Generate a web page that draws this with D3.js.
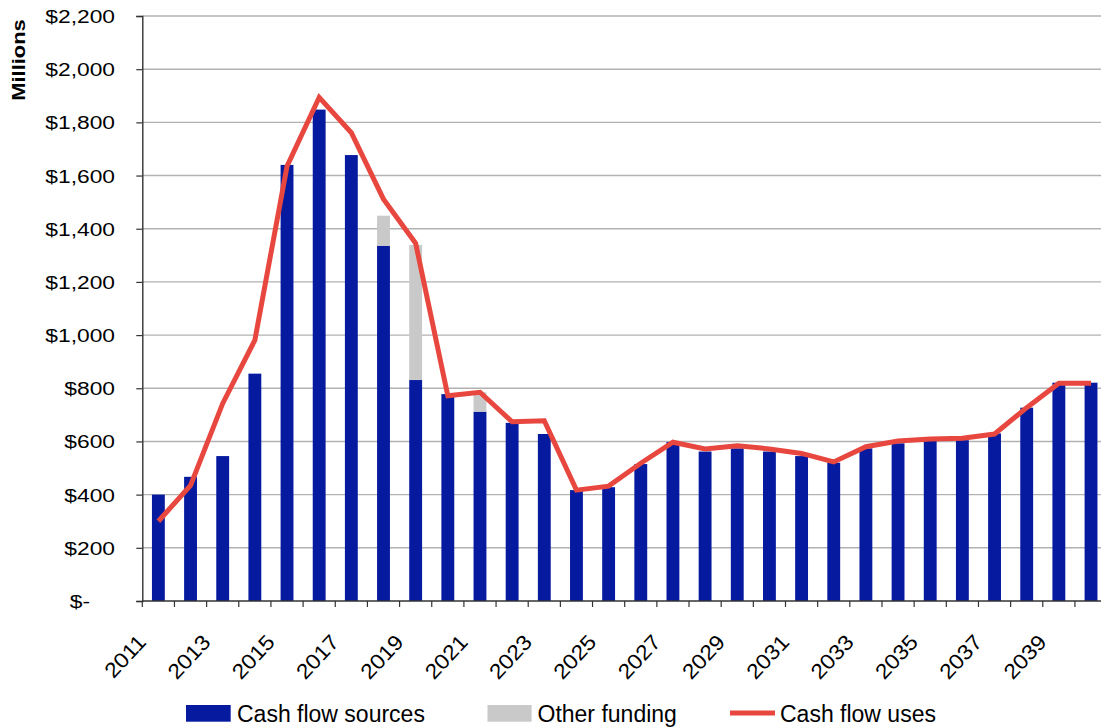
<!DOCTYPE html>
<html>
<head>
<meta charset="utf-8">
<script src="https://cdn.jsdelivr.net/npm/d3@7"></script>
<style>
  html, body { margin: 0; padding: 0; background: #fff; }
  svg { display: block; }
  text { font-family: "Liberation Sans", Arial, sans-serif; fill: #000; }
</style>
</head>
<body>
<svg id="chart" width="1101" height="728"></svg>
<script>
const years = ["2011","2012","2013","2014","2015","2016","2017","2018","2019","2020",
  "2021","2022","2023","2024","2025","2026","2027","2028","2029","2030",
  "2031","2032","2033","2034","2035","2036","2037","2038","2039","2040"];
const cashFlowSources = [400,467,545,855,1640,1848,1677,1336,831,778,
  712,670,628,417,428,515,598,562,574,562,
  545,520,574,593,603,605,630,727,821,821];
const otherFunding = [0,0,0,0,0,0,0,113,508,0,
  73,0,0,0,0,0,0,0,0,0,
  0,0,0,0,0,0,0,0,0,0];
const cashFlowUses = [300,435,743,981,1635,1894,1761,1511,1345,772,
  785,674,678,417,432,518,597,572,584,572,
  555,523,580,602,609,612,628,727,819,819];
const yTickValues = [0,200,400,600,800,1000,1200,1400,1600,1800,2000,2200];
const yTickLabels = ["$-","$200","$400","$600","$800","$1,000","$1,200","$1,400","$1,600","$1,800","$2,000","$2,200"];
const xTickLabels = ["2011","2013","2015","2017","2019","2021","2023","2025","2027","2029","2031","2033","2035","2037","2039"];
const legendItems = ["Cash flow sources","Other funding","Cash flow uses"];

const BLUE = "#061aa0", GRAY = "#c9c9c9", RED = "#e8473f";
const svg = d3.select("#chart");
const plotLeft = 142.3, bandW = 32.16, plotTop = 16, plotBottom = 601;

const x = d3.scaleBand().domain(years).range([plotLeft, plotLeft + bandW * years.length]).padding(0);
const y = d3.scaleLinear().domain([0, 2200]).range([plotBottom, plotTop]);

// gridlines
svg.append("g").selectAll("line").data(yTickValues.filter(v => v > 0)).join("line")
  .attr("x1", plotLeft).attr("x2", 1101)
  .attr("y1", d => y(d)).attr("y2", d => y(d))
  .attr("stroke", "#b2b2b2").attr("stroke-width", 1.4);

// bars
const bw = x.bandwidth() * 0.4;
const barG = svg.append("g");
barG.selectAll("rect.src").data(years).join("rect").attr("class", "src")
  .attr("x", d => x(d) + (x.bandwidth() - bw) / 2)
  .attr("width", bw)
  .attr("y", (d, i) => y(cashFlowSources[i]))
  .attr("height", (d, i) => y(0) - y(cashFlowSources[i]))
  .attr("fill", BLUE);
barG.selectAll("rect.oth").data(years).join("rect").attr("class", "oth")
  .attr("x", d => x(d) + (x.bandwidth() - bw) / 2)
  .attr("width", bw)
  .attr("y", (d, i) => y(cashFlowSources[i] + otherFunding[i]))
  .attr("height", (d, i) => y(cashFlowSources[i]) - y(cashFlowSources[i] + otherFunding[i]))
  .attr("fill", GRAY);

// axes
const yAxis = d3.axisLeft(y).tickValues(yTickValues).tickSize(6).tickFormat("");
const yg = svg.append("g").attr("transform", `translate(${plotLeft},0)`).call(yAxis);
yg.select(".domain").attr("stroke", "#333").attr("stroke-width", 1.4);
yg.selectAll(".tick line").attr("stroke", "#333").attr("stroke-width", 1.2);

svg.append("g").selectAll("text").data(yTickValues).join("text")
  .attr("transform", (d, i) => `translate(${i === 0 ? 90 : 115},${y(d)}) scale(1.2,1)`)
  .attr("dy", "0.37em")
  .attr("text-anchor", "end")
  .style("font-size", "19px")
  .text((d, i) => yTickLabels[i]);

// x axis line and ticks
svg.append("line").attr("x1", plotLeft).attr("x2", 1101)
  .attr("y1", plotBottom).attr("y2", plotBottom)
  .attr("stroke", "#333").attr("stroke-width", 1.4);
svg.append("g").selectAll("line").data(years).join("line")
  .attr("x1", d => x(d)).attr("x2", d => x(d))
  .attr("y1", plotBottom).attr("y2", plotBottom + 6)
  .attr("stroke", "#333").attr("stroke-width", 1.2);

svg.append("g").selectAll("text").data(xTickLabels).join("text")
  .attr("transform", d => `translate(${x(d) + x.bandwidth() / 2 - 11},${643}) rotate(-47) scale(1.1,1)`)
  .attr("text-anchor", "end")
  .style("font-size", "21px")
  .text(d => d);

// line
const line = d3.line().x((d, i) => x(years[i]) + x.bandwidth() / 2).y(d => y(d));
svg.append("path").datum(cashFlowUses)
  .attr("d", line)
  .attr("fill", "none").attr("stroke", RED).attr("stroke-width", 5)
  .attr("stroke-linejoin", "miter");

// y title
svg.append("text")
  .attr("transform", "translate(25,60) rotate(-90) scale(1.15,1)")
  .attr("text-anchor", "middle")
  .style("font-size", "19px").style("font-weight", "bold")
  .text("Millions");

// legend
const lg = svg.append("g");
lg.append("rect").attr("x", 186).attr("y", 705).attr("width", 44.7).attr("height", 16.7).attr("fill", BLUE);
lg.append("text").attr("x", 237).attr("y", 721.5).style("font-size", "23px").text(legendItems[0]);
lg.append("rect").attr("x", 487.5).attr("y", 705).attr("width", 44.1).attr("height", 16.7).attr("fill", GRAY);
lg.append("text").attr("x", 537.5).attr("y", 721.5).style("font-size", "23px").text(legendItems[1]);
lg.append("line").attr("x1", 730).attr("x2", 775).attr("y1", 713).attr("y2", 713).attr("stroke", RED).attr("stroke-width", 5);
lg.append("text").attr("x", 780).attr("y", 721.5).style("font-size", "23px").text(legendItems[2]);
</script>
</body>
</html>
